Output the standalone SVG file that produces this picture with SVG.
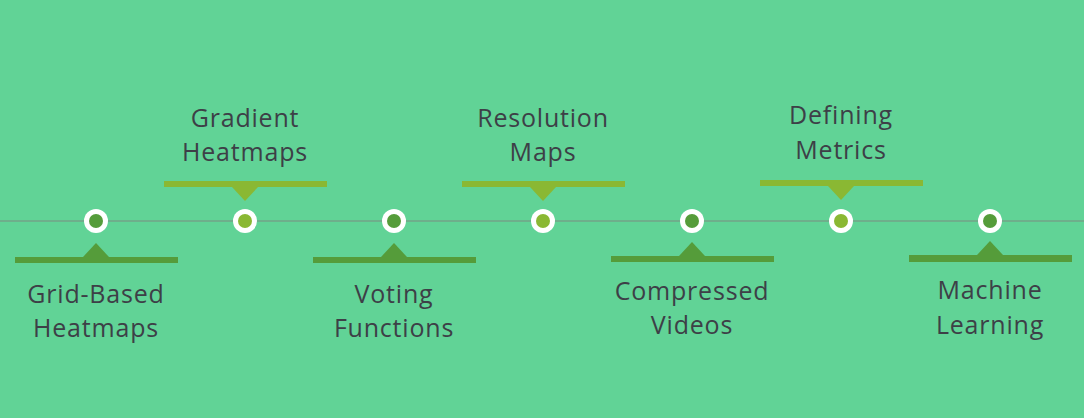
<svg xmlns="http://www.w3.org/2000/svg" width="1084" height="418" viewBox="0 0 1084 418">
<style>
.t{font-family:"Open Sans","Liberation Sans",sans-serif;font-size:25px;letter-spacing:0.8px;fill:#3d3f47;text-anchor:middle}
.ring{fill:#ffffff}
.dk{fill:#559c3a}
.lt{fill:#8ab833}
</style>
<rect width="1084" height="418" fill="#61d396"/>
<g id="connectors">
<line x1="0" y1="221" x2="1084" y2="221" stroke="#7d8c80" stroke-width="1.2"/>
</g>
<g id="n1">
<circle class="ring" cx="96" cy="221" r="12"/><circle class="dk" cx="96" cy="221" r="7"/>
<rect class="dk" x="15" y="257" width="163" height="6"/><polygon class="dk" points="83,257 109,257 96,243"/>
<text class="t" x="96" y="303">Grid-Based</text><text class="t" x="96" y="337">Heatmaps</text>
</g>
<g id="n2">
<circle class="ring" cx="245" cy="221" r="12"/><circle class="lt" cx="245" cy="221" r="7"/>
<rect class="lt" x="164" y="181" width="163" height="6"/><polygon class="lt" points="232,187 258,187 245,201"/>
<text class="t" x="245" y="127">Gradient</text><text class="t" x="245" y="161">Heatmaps</text>
</g>
<g id="n3">
<circle class="ring" cx="394" cy="221" r="12"/><circle class="dk" cx="394" cy="221" r="7"/>
<rect class="dk" x="313" y="257" width="163" height="6"/><polygon class="dk" points="381,257 407,257 394,243"/>
<text class="t" x="394" y="303">Voting</text><text class="t" x="394" y="337">Functions</text>
</g>
<g id="n4">
<circle class="ring" cx="543" cy="221" r="12"/><circle class="lt" cx="543" cy="221" r="7"/>
<rect class="lt" x="462" y="181" width="163" height="6"/><polygon class="lt" points="530,187 556,187 543,201"/>
<text class="t" x="543" y="127">Resolution</text><text class="t" x="543" y="161">Maps</text>
</g>
<g id="n5">
<circle class="ring" cx="692" cy="221" r="12"/><circle class="dk" cx="692" cy="221" r="7"/>
<rect class="dk" x="611" y="256" width="163" height="6"/><polygon class="dk" points="679,256 705,256 692,242"/>
<text class="t" x="692" y="300">Compressed</text><text class="t" x="692" y="334">Videos</text>
</g>
<g id="n6">
<circle class="ring" cx="841" cy="221" r="12"/><circle class="lt" cx="841" cy="221" r="7"/>
<rect class="lt" x="760" y="180" width="163" height="6"/><polygon class="lt" points="828,186 854,186 841,200"/>
<text class="t" x="841" y="124">Defining</text><text class="t" x="841" y="159">Metrics</text>
</g>
<g id="n7">
<circle class="ring" cx="990" cy="221" r="12"/><circle class="dk" cx="990" cy="221" r="7"/>
<rect class="dk" x="909" y="255" width="163" height="7"/><polygon class="dk" points="977,255 1003,255 990,241"/>
<text class="t" x="990" y="299">Machine</text><text class="t" x="990" y="334">Learning</text>
</g>
</svg>
